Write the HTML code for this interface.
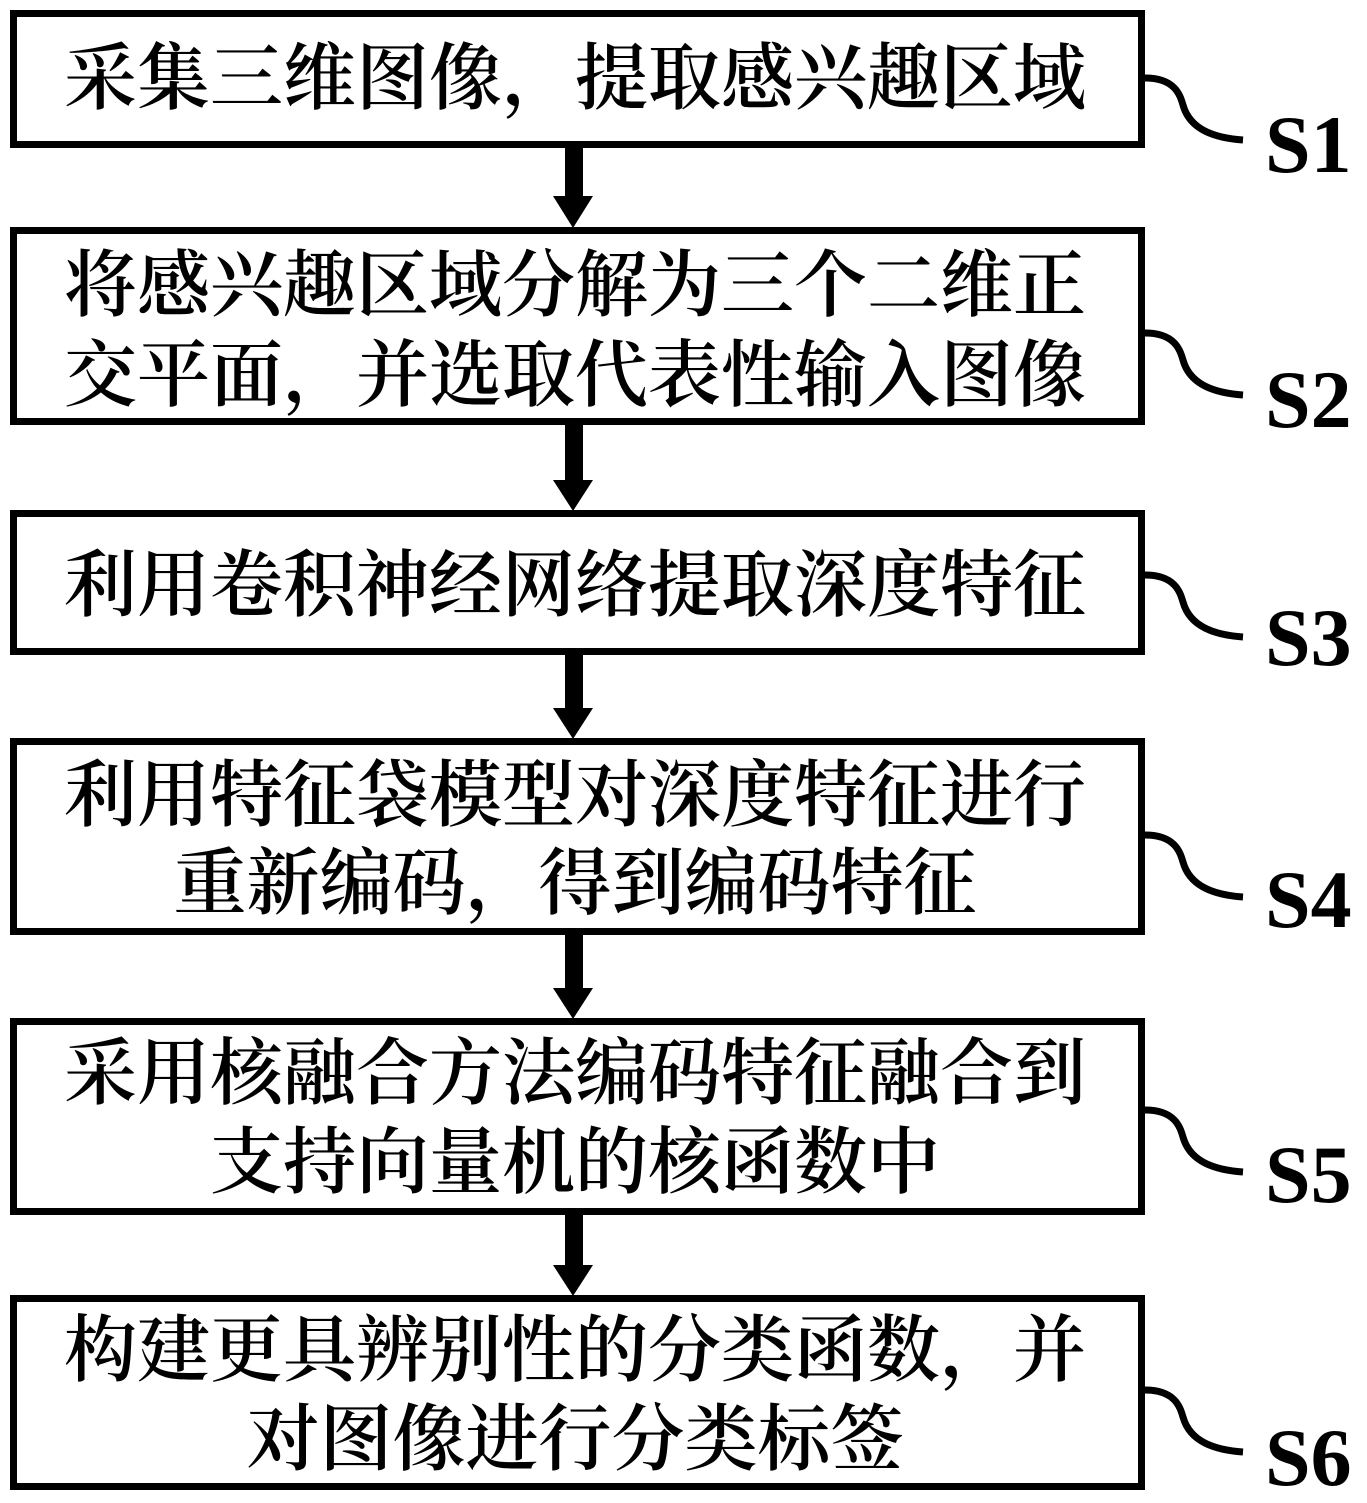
<!DOCTYPE html>
<html><head><meta charset="utf-8"><style>
body{margin:0;background:#fff;}
svg{display:block}
.t{font-family:"Liberation Serif","Noto Serif CJK SC",serif;font-size:73px;font-weight:600;fill:#000;text-anchor:middle}
.s{font-family:"Liberation Serif",serif;font-size:82px;font-weight:700;fill:#000}
</style></head><body>
<svg width="1367" height="1503" viewBox="0 0 1367 1503">
<g fill="none" stroke="#000" stroke-width="7">
<rect x="13.5" y="13.5" width="1128" height="131"/>
<rect x="13.5" y="230.5" width="1128" height="191"/>
<rect x="13.5" y="513.5" width="1128" height="138"/>
<rect x="13.5" y="741.5" width="1128" height="190"/>
<rect x="13.5" y="1021.5" width="1128" height="190"/>
<rect x="13.5" y="1298.5" width="1128" height="188"/>
</g>
<g fill="#000">
<rect x="565" y="148" width="18" height="50"/><polygon points="553,196 593,196 573,228"/>
<rect x="565" y="425" width="18" height="58"/><polygon points="553,480 593,480 573,511"/>
<rect x="565" y="655" width="18" height="56"/><polygon points="553,708 593,708 573,739"/>
<rect x="565" y="935" width="18" height="56"/><polygon points="553,988 593,988 573,1019"/>
<rect x="565" y="1215" width="18" height="53"/><polygon points="553,1265 593,1265 573,1296"/>
</g>
<g fill="none" stroke="#000" stroke-width="7">
<path d="M1145,78 C1175,78 1180,95 1183,105 C1190,130 1215,138 1243,140"/>
<path d="M1145,333 C1175,333 1180,350 1183,360 C1190,385 1215,393 1243,395"/>
<path d="M1145,575 C1175,575 1180,592 1183,602 C1190,627 1215,635 1243,637"/>
<path d="M1145,835 C1175,835 1180,852 1183,862 C1190,887 1215,895 1243,897"/>
<path d="M1145,1110 C1175,1110 1180,1127 1183,1137 C1190,1162 1215,1170 1243,1172"/>
<path d="M1145,1390 C1175,1390 1180,1407 1183,1417 C1190,1442 1215,1450 1243,1452"/>
</g>
<text class="s" x="1265" y="172">S1</text>
<text class="s" x="1265" y="427">S2</text>
<text class="s" x="1265" y="665">S3</text>
<text class="s" x="1265" y="927">S4</text>
<text class="s" x="1265" y="1202">S5</text>
<text class="s" x="1265" y="1485">S6</text>
<text class="t" x="575" y="103">采集三维图像，提取感兴趣区域</text>
<text class="t" x="575" y="310">将感兴趣区域分解为三个二维正</text>
<text class="t" x="575" y="400">交平面，并选取代表性输入图像</text>
<text class="t" x="575" y="610">利用卷积神经网络提取深度特征</text>
<text class="t" x="575" y="820">利用特征袋模型对深度特征进行</text>
<text class="t" x="575" y="908">重新编码，得到编码特征</text>
<text class="t" x="575" y="1098">采用核融合方法编码特征融合到</text>
<text class="t" x="575" y="1187">支持向量机的核函数中</text>
<text class="t" x="575" y="1375">构建更具辨别性的分类函数，并</text>
<text class="t" x="575" y="1464">对图像进行分类标签</text>
</svg>
</body></html>
